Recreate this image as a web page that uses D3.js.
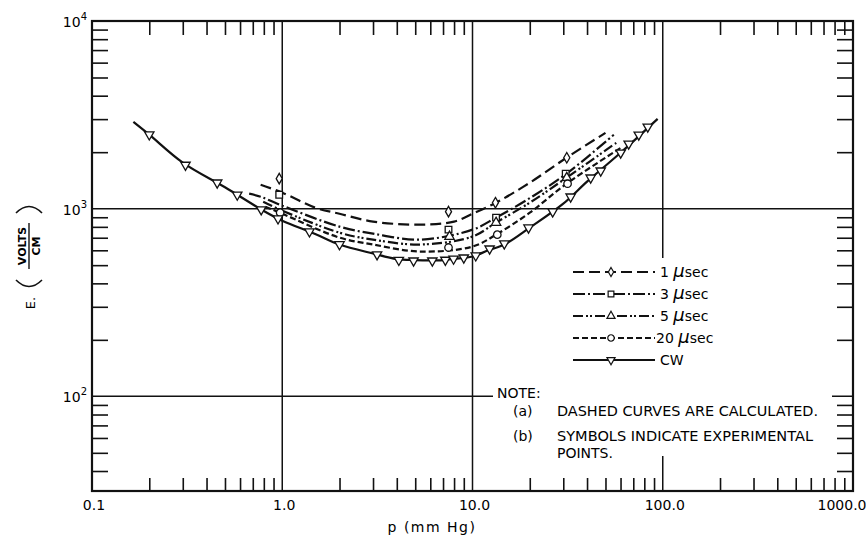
<!DOCTYPE html>
<html>
<head>
<meta charset="utf-8">
<script src="https://cdn.jsdelivr.net/npm/d3@7"></script>
<style>
  body { margin: 0; background: #fff; }
  svg { display: block; font-family: "DejaVu Sans", sans-serif; }
</style>
</head>
<body>
<svg id="chart" width="866" height="540"></svg>
<script>
// values: p in mm Hg, E in volts/cm

// CW, solid curve + experimental points
let cwLineP = [0.165, 0.2, 0.3, 0.5, 0.8, 1.0, 1.5, 2, 3, 4, 5, 6, 7, 8, 10, 12, 15, 20, 30, 40, 60, 94];
let cwLineE = [2900, 2480, 1760, 1300, 972, 863, 731, 644, 577, 539, 532, 530, 532, 540, 556, 598, 651, 792, 1063, 1393, 1985, 3010];
let cwMarkP = [0.2, 0.31, 0.455, 0.58, 0.775, 0.95, 1.39, 2.0, 3.15, 4.1, 4.9, 6.15, 7.2, 7.95, 9.0, 10.4, 12.3, 14.7, 19.7, 26.4, 32.8, 41.8, 47.2, 60.1, 66.2, 74.8, 83.4];
let cwMarkE = [2480, 1710, 1375, 1185, 990, 885, 755, 645, 570, 532, 528, 528, 533, 540, 548, 562, 612, 651, 792, 964, 1158, 1462, 1593, 1985, 2218, 2477, 2731];

// 1 usec
let us1LineP = [0.77, 1.0, 1.5, 2.0, 3.0, 5.3, 8.0, 10, 13.3, 20, 31.2, 50];
let us1LineE = [1342, 1217, 1010, 940, 853, 822, 853, 940, 1076, 1375, 1868, 2535];
let us1MarkP = [0.964, 7.48, 13.2, 31.3];
let us1MarkE = [1445, 964, 1076, 1868];

// 3 usec
let us3LineP = [0.67, 0.77, 1.0, 2.0, 3.0, 5.3, 10, 13.3, 20, 31.2, 55.3];
let us3LineE = [1202, 1158, 1037, 802, 736, 684, 773, 896, 1138, 1536, 2477];
let us3MarkP = [0.964, 7.48, 13.3, 30.9];
let us3MarkE = [1186, 773, 896, 1536];

// 5 usec
let us5LineP = [0.794, 1.0, 2.0, 3.0, 5.3, 10, 13.3, 20, 31.2, 58];
let us5LineE = [1089, 976, 745, 684, 644, 710, 843, 1076, 1462, 2271];
let us5MarkP = [7.57, 13.3, 31.3];
let us5MarkE = [710, 843, 1462];

// 20 usec
let us20LineP = [0.815, 1.0, 2.0, 3.0, 5.3, 10, 13.3, 20, 31.2, 61.5];
let us20LineE = [1025, 940, 701, 644, 591, 628, 727, 952, 1358, 2138];
let us20MarkP = [0.975, 7.48, 13.5, 31.6];
let us20MarkE = [952, 621, 727, 1358];

let xMajor = [0.1, 1, 10, 100, 1000];
let xMajorLabels = ['0.1', '1.0', '10.0', '100.0', '1000.0'];
let yMajor = [1e4, 1e3, 1e2];
let yMajorExp = ['4', '3', '2'];

let legendLabels = ['1', '3', '5', '20', 'CW'];

let series = [
    {lineP: us1LineP, lineE: us1LineE, markP: us1MarkP, markE: us1MarkE, dash: '11,5', symbol: 'diamond'},
    {lineP: us3LineP, lineE: us3LineE, markP: us3MarkP, markE: us3MarkE, dash: '12,3,2,3', symbol: 'square'},
    {lineP: us5LineP, lineE: us5LineE, markP: us5MarkP, markE: us5MarkE, dash: '10,3,2,2,2,3', symbol: 'up'},
    {lineP: us20LineP, lineE: us20LineE, markP: us20MarkP, markE: us20MarkE, dash: '6,3', symbol: 'circle'},
    {lineP: cwLineP, lineE: cwLineE, markP: cwMarkP, markE: cwMarkE, dash: null, symbol: 'down'}
];

let svg = d3.select('#chart');
let plotLeft = 92, plotRight = 853, plotTop = 21, plotBottom = 491;

let x = d3.scaleLog().domain([0.1, 1000]).range([plotLeft, plotRight]);
let y = d3.scaleLog().domain([31.3, 1e4]).range([plotBottom, plotTop]);

// minor ticks 2..9 inside each decade
let xMinor = [];
[0.1, 1, 10, 100].forEach(d => { for (let k = 2; k <= 9; k++) xMinor.push(d * k); });
let yMinor = [];
[10, 100, 1000].forEach(d => { for (let k = 2; k <= 9; k++) if (d * k >= 32) yMinor.push(d * k); });

function tickAxis(axis, tx, ty) {
    let g = svg.append('g').attr('transform', `translate(${tx},${ty})`).call(axis);
    g.select('.domain').remove();
    g.selectAll('.tick line').attr('stroke', '#111').attr('stroke-width', 1.6);
}
tickAxis(d3.axisTop(x).tickValues(xMinor).tickSize(13).tickFormat(''), 0, plotBottom);
tickAxis(d3.axisBottom(x).tickValues(xMinor).tickSize(14).tickFormat(''), 0, plotTop);
tickAxis(d3.axisRight(y).tickValues(yMinor).tickSize(16).tickFormat(''), plotLeft, 0);
tickAxis(d3.axisLeft(y).tickValues(yMinor).tickSize(16).tickFormat(''), plotRight, 0);

// grid lines at the decades
svg.append('g').selectAll('line').data([1, 10, 100]).enter().append('line')
    .attr('x1', d => x(d)).attr('x2', d => x(d)).attr('y1', plotTop).attr('y2', plotBottom)
    .attr('stroke', '#111').attr('stroke-width', 1.5);
svg.append('g').selectAll('line').data([1000, 100]).enter().append('line')
    .attr('x1', plotLeft).attr('x2', plotRight).attr('y1', d => y(d)).attr('y2', d => y(d))
    .attr('stroke', '#111').attr('stroke-width', 1.5);

// frame
svg.append('rect').attr('x', plotLeft).attr('y', plotTop)
    .attr('width', plotRight - plotLeft).attr('height', plotBottom - plotTop)
    .attr('fill', 'none').attr('stroke', '#111').attr('stroke-width', 2.2);

// blank area behind legend and note
svg.append('rect').attr('x', 493).attr('y', 258).attr('width', 339).attr('height', 198).attr('fill', '#fff');

// tick labels
svg.append('g').selectAll('text').data(xMajor).enter().append('text')
    .attr('x', (d, i) => x(d) + (i === xMajor.length - 1 ? -11 : 2))
    .attr('y', 510)
    .attr('text-anchor', 'middle')
    .attr('font-size', 14)
    .text((d, i) => xMajorLabels[i]);

let yLab = svg.append('g').selectAll('text').data(yMajor).enter().append('text')
    .attr('x', 87).attr('y', d => y(d) + 6)
    .attr('text-anchor', 'end').attr('font-size', 14);
yLab.append('tspan').text('10');
yLab.append('tspan').attr('dy', -7).attr('font-size', 10).text((d, i) => yMajorExp[i]);

// axis titles
svg.append('text').attr('x', 432).attr('y', 532).attr('text-anchor', 'middle')
    .attr('font-size', 14).attr('letter-spacing', 1.5).text('p (mm Hg)');

let yt = svg.append('g').attr('transform', 'translate(30,249) rotate(-90)');
yt.append('text').attr('x', -54).attr('y', 5).attr('text-anchor', 'middle').attr('font-size', 13).text('E.');
yt.append('path').attr('d', 'M -31,-14 Q -44,-1 -31,12').attr('fill', 'none').attr('stroke', '#111').attr('stroke-width', 1.6);
yt.append('path').attr('d', 'M 36,-14 Q 49,-1 36,12').attr('fill', 'none').attr('stroke', '#111').attr('stroke-width', 1.6);
yt.append('text').attr('x', 3).attr('y', -4).attr('text-anchor', 'middle').attr('font-size', 11).attr('font-weight', 'bold').text('VOLTS');
yt.append('line').attr('x1', -20).attr('x2', 26).attr('y1', -1).attr('y2', -1).attr('stroke', '#111').attr('stroke-width', 1.4);
yt.append('text').attr('x', 3).attr('y', 10).attr('text-anchor', 'middle').attr('font-size', 11).attr('font-weight', 'bold').text('CM');

// curves
let line = d3.line()
    .x(d => x(d[0]))
    .y(d => y(d[1]))
    .curve(d3.curveCatmullRom.alpha(0.5));

function symbolPath(kind, scale) {
    let s = scale || 1;
    switch (kind) {
        case 'diamond': return d3.symbol(d3.symbolDiamond, 32 * s)();
        case 'square': return d3.symbol(d3.symbolSquare, 44 * s)();
        case 'up': return d3.symbol(d3.symbolTriangle, 38 * s)();
        case 'down': return d3.symbol(d3.symbolTriangle, 38 * s)();
        case 'circle': return d3.symbol(d3.symbolCircle, 44 * s)();
    }
}

series.forEach(s => {
    let pts = s.lineP.map((p, i) => [p, s.lineE[i]]);
    svg.append('path').datum(pts)
        .attr('d', line)
        .attr('fill', 'none')
        .attr('stroke', '#111')
        .attr('stroke-width', 2.2)
        .attr('stroke-dasharray', s.dash);
});

series.forEach(s => {
    let marks = s.markP.map((p, i) => [p, s.markE[i]]);
    svg.append('g').selectAll('path').data(marks).enter().append('path')
        .attr('d', symbolPath(s.symbol))
        .attr('transform', d => `translate(${x(d[0])},${y(d[1])})` + (s.symbol === 'down' ? ' rotate(180)' : ''))
        .attr('fill', '#fff')
        .attr('stroke', '#111')
        .attr('stroke-width', 1.3);
});

// legend
let legendY = [272, 294, 316, 338, 360];
series.forEach((s, i) => {
    let g = svg.append('g').attr('transform', `translate(0,${legendY[i]})`);
    g.append('line').attr('x1', 573).attr('x2', 655).attr('y1', 0).attr('y2', 0)
        .attr('stroke', '#111').attr('stroke-width', 2)
        .attr('stroke-dasharray', s.dash);
    g.append('path').attr('d', symbolPath(s.symbol, 0.75))
        .attr('transform', 'translate(611,0)' + (s.symbol === 'down' ? ' rotate(180)' : ''))
        .attr('fill', '#fff').attr('stroke', '#111').attr('stroke-width', 1.2);
    let t = g.append('text').attr('x', i === 3 ? 656 : 660).attr('y', 5).attr('font-size', 14);
    if (legendLabels[i] === 'CW') {
        t.text('CW');
    } else {
        t.append('tspan').text(legendLabels[i] + ' ');
        t.append('tspan').attr('font-style', 'italic').attr('font-size', 18).text('\u03bc');
        t.append('tspan').text('sec');
    }
});

// note
let note = svg.append('g').attr('font-size', 14);
note.append('text').attr('x', 497).attr('y', 398).text('NOTE:');
note.append('text').attr('x', 513).attr('y', 416).text('(a)');
note.append('text').attr('x', 557).attr('y', 416).attr('textLength', 261).attr('lengthAdjust', 'spacingAndGlyphs')
    .text('DASHED CURVES ARE CALCULATED.');
note.append('text').attr('x', 513).attr('y', 441).text('(b)');
note.append('text').attr('x', 557).attr('y', 441).attr('textLength', 256).attr('lengthAdjust', 'spacingAndGlyphs')
    .text('SYMBOLS INDICATE EXPERIMENTAL');
note.append('text').attr('x', 557).attr('y', 458).text('POINTS.');
</script>
</body>
</html>
